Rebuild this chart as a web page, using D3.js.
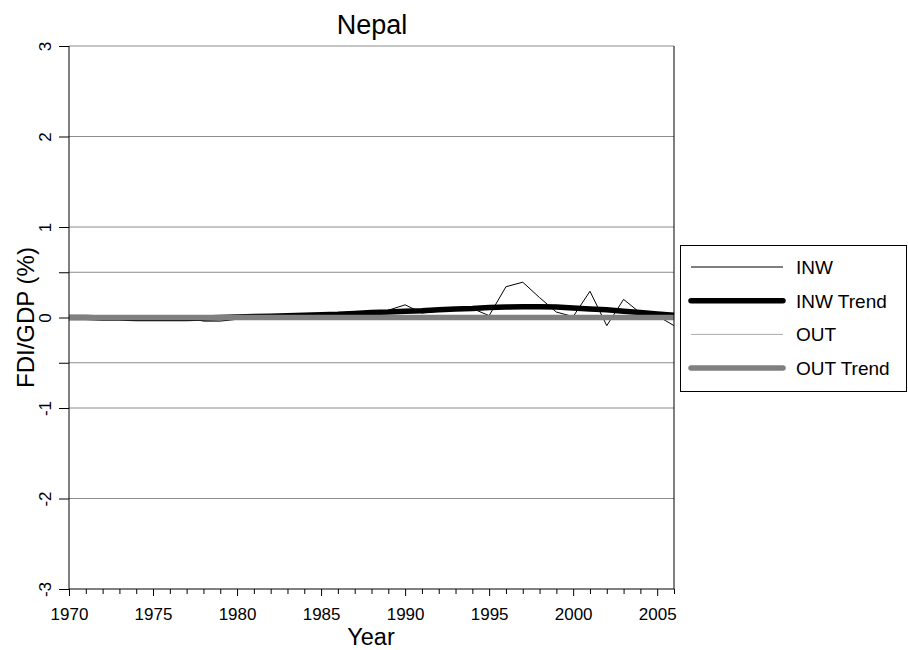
<!DOCTYPE html>
<html><head><meta charset="utf-8">
<script src="https://cdn.jsdelivr.net/npm/d3@7"></script>
<style>body{margin:0;background:#fff}svg{display:block}text{font-family:"Liberation Sans",Arial,sans-serif}</style>
</head><body>
<svg id="c" width="908" height="650"></svg>
<script>
const years = d3.range(1970, 2007);
const inw = [0,0,0,0,0,0,0,0,-0.04,-0.04,-0.02,0,0.01,0.02,0.02,0.03,0.03,0.04,0.05,0.08,0.14,0.05,0.07,0.09,0.10,0.02,0.34,0.39,0.22,0.06,0.01,0.29,-0.09,0.20,0.05,0.02,-0.09];
const inwTrend = [0,0,-0.005,-0.005,-0.01,-0.01,-0.01,-0.01,-0.005,0,0.005,0.01,0.015,0.02,0.025,0.03,0.035,0.045,0.055,0.06,0.07,0.075,0.085,0.095,0.10,0.11,0.115,0.12,0.12,0.115,0.105,0.095,0.085,0.07,0.055,0.04,0.025];
const out = years.map(() => 0);
const outTrend = years.map(() => 0);
const yTicks = [-3,-2,-1,0,1,2,3];
const yGrid = [-2,-1,-0.5,0,0.5,1,2,3];
const yMinorTicks = [-0.5,0.5];
const xTicks = [1970,1975,1980,1985,1990,1995,2000,2005];
const legendItems = ["INW","INW Trend","OUT","OUT Trend"];

const svg = d3.select("#c");
const L=69,R=674,T=46,B=589;
const x = d3.scaleLinear().domain([1970,2006]).range([L,R]);
const y = d3.scaleLinear().domain([-3,3]).range([B,T]);

// grid
svg.append("g").selectAll("line").data(yGrid).join("line")
  .attr("x1",L).attr("x2",R).attr("y1",d=>y(d)).attr("y2",d=>y(d))
  .attr("stroke","#8c8c8c").attr("stroke-width",1);

// series (legend order)
const styles = [
  {data:inw, c:"#000", w:1},
  {data:inwTrend, c:"#000", w:5.5},
  {data:out, c:"#aaa", w:1},
  {data:outTrend, c:"#808080", w:5.5}
];
const drawOrder = [1,0,2,3];
const line = d3.line().x((d,i)=>x(years[i])).y(d=>y(d));
drawOrder.forEach(k=>{
  const s = styles[k];
  svg.append("path").attr("d",line(s.data)).attr("fill","none")
    .attr("stroke",s.c).attr("stroke-width",s.w).attr("stroke-linejoin","round");
});

// axes
const yAxis = d3.axisLeft(y).tickValues(yTicks.concat(yMinorTicks)).tickSize(10).tickFormat(d=>yTicks.includes(d)?d:"");
const gy = svg.append("g").attr("transform",`translate(${L},0)`).call(yAxis);
gy.attr("font-family",null).attr("font-size",null);
gy.select(".domain").attr("d",`M0,${T}V${B}`).attr("stroke","#000");
gy.selectAll(".tick line").attr("stroke","#000");
gy.selectAll(".tick text").attr("font-size",17).attr("fill","#000")
  .attr("text-anchor","middle").attr("x",null).attr("dy",null)
  .attr("transform","translate(-18,0) rotate(-90)").attr("y",0);

const xAxis = d3.axisBottom(x).tickValues(d3.range(1970,2007)).tickSize(5).tickFormat(d=>xTicks.includes(d)?d:"");
const gx = svg.append("g").attr("transform",`translate(0,${B})`).call(xAxis);
gx.attr("font-family",null).attr("font-size",null);
gx.select(".domain").attr("d",`M${L},0H${R}`).attr("stroke","#000");
gx.selectAll(".tick line").attr("stroke","#000").attr("y2",d=>xTicks.includes(d)?7:5);
gx.selectAll(".tick text").attr("font-size",17).attr("fill","#000").attr("y",31).attr("dy",null);

// right border
svg.append("line").attr("x1",R).attr("x2",R).attr("y1",T).attr("y2",B).attr("stroke","#000");

// labels
svg.append("text").attr("x",372).attr("y",34).attr("text-anchor","middle").attr("font-size",27).text("Nepal");
svg.append("text").attr("x",371).attr("y",645).attr("text-anchor","middle").attr("font-size",23.5).text("Year");
svg.append("text").attr("transform",`translate(34,${y(0)}) rotate(-90)`).attr("text-anchor","middle").attr("font-size",24).text("FDI/GDP (%)");

// legend
const lg = svg.append("g");
lg.append("rect").attr("x",680.5).attr("y",245.5).attr("width",226).attr("height",146).attr("fill","#fff").attr("stroke","#000");
legendItems.forEach((t,i)=>{
  const yy = 267 + i*33.7;
  const s = styles[i];
  lg.append("line").attr("x1",691).attr("x2",783).attr("y1",yy).attr("y2",yy)
    .attr("stroke",s.c).attr("stroke-width",s.w).attr("stroke-linecap",s.w>2?"round":"butt");
  lg.append("text").attr("x",796).attr("y",yy).attr("dy","0.36em").attr("font-size",19).text(t);
});
</script>
</body></html>
